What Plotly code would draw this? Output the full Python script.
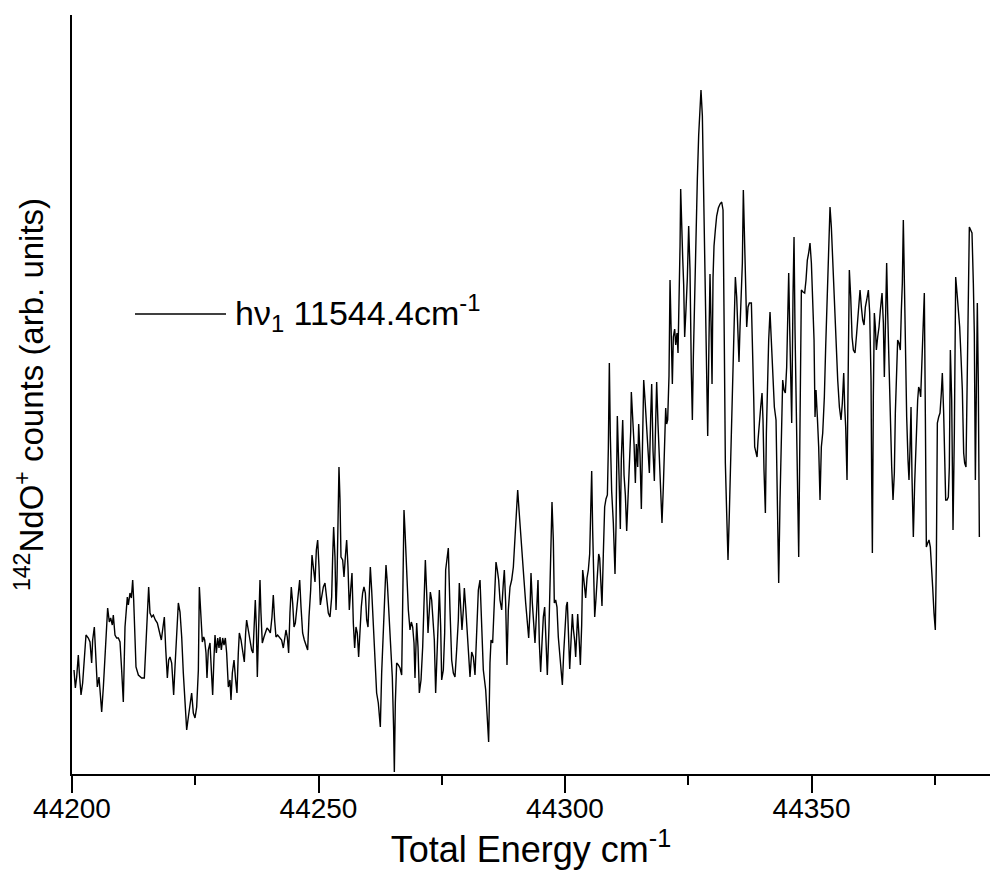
import plotly.graph_objects as go

# (total energy in cm^-1, 142NdO+ counts in arb. units)
seg_a = [(44200.41,102),(44200.68,84),(44200.95,95),(44201.28,117),(44201.49,99),(44201.83,77),(44202.16,89),(44202.43,105),(44202.84,137),(44203.31,134),(44203.65,130),(44203.99,109),(44204.19,132),(44204.53,145),(44204.80,122),(44205.14,85),(44205.48,95),(44205.75,79),(44206.02,60),(44206.36,85),(44206.69,115),(44207.03,152),(44207.23,164),(44207.57,150),(44207.84,154),(44208.18,147),(44208.38,157),(44208.72,137),(44209.06,134),(44209.40,134),(44209.74,130),(44210.07,102),(44210.41,70),(44210.75,145),(44210.95,159),(44211.22,175),(44211.43,167),(44211.76,179),(44212.04,174),(44212.31,192),(44212.51,172),(44212.78,139),(44212.98,105),(44213.46,97),(44214.13,94),(44214.67,94),(44215.01,129),(44215.28,165),(44215.55,185),(44215.82,159),(44216.16,155),(44216.50,157),(44216.90,152),(44217.31,149),(44217.71,139),(44218.12,132),(44218.46,145),(44218.73,155),(44219.00,124),(44219.34,94),(44219.61,112),(44219.88,115),(44220.22,109),(44220.62,77),(44220.89,105),(44221.23,142),(44221.57,169),(44221.91,160),(44222.25,135),(44222.58,99),(44222.92,69),(44223.26,42),(44223.60,55),(44223.94,65),(44224.27,79),(44224.61,59),(44224.95,54),(44225.29,65),(44225.63,102),(44225.83,185),(44226.10,165),(44226.44,130),(44226.71,135),(44226.91,132),(44227.18,119),(44227.38,94),(44227.65,122),(44227.99,129),(44228.26,102),(44228.53,77),(44228.80,115),(44229.01,137),(44229.28,119),(44229.55,134),(44229.82,124),(44230.02,135),(44230.29,122),(44230.56,134),(44230.83,127),(44231.10,134),(44231.37,119),(44231.71,85)]

seg_b = [(44232.04,92),(44232.25,72),(44232.52,99),(44232.86,112),(44233.19,92),(44233.46,79),(44233.73,119),(44233.94,139),(44234.28,132),(44234.61,119),(44234.95,110),(44235.22,139),(44235.42,152),(44235.76,142),(44236.10,132),(44236.44,122),(44236.71,119),(44236.98,152),(44237.18,172),(44237.39,145),(44237.59,95),(44237.86,145),(44238.13,192),(44238.33,159),(44238.60,129),(44238.94,135),(44239.21,140),(44239.55,144),(44239.89,142),(44240.23,139),(44240.56,155),(44240.83,177),(44241.10,152),(44241.37,135),(44241.71,137),(44242.12,135),(44242.52,132),(44242.86,124),(44243.13,132),(44243.40,142),(44243.67,135),(44243.94,119),(44244.21,159),(44244.48,185),(44244.76,169),(44245.03,145),(44245.30,149),(44245.63,165),(44245.91,182),(44246.18,192),(44246.45,165),(44246.78,139),(44247.12,132),(44247.53,125),(44247.80,122),(44248.07,155),(44248.41,182),(44248.68,217),(44249.02,202),(44249.29,190),(44249.56,222),(44249.83,232),(44250.10,205),(44250.37,167),(44250.64,175),(44250.98,185),(44251.31,189),(44251.65,172),(44251.99,159),(44252.33,155),(44252.67,175),(44252.87,215),(44253.07,245),(44253.34,215),(44253.55,162),(44253.75,192),(44253.95,255),(44254.15,305),(44254.36,272),(44254.56,215),(44254.90,212),(44255.17,195),(44255.44,215),(44255.71,232),(44255.98,205),(44256.25,162),(44256.52,182),(44256.79,199),(44257.06,149),(44257.33,124),(44257.60,145),(44257.87,139),(44258.14,115),(44258.41,145),(44258.68,165),(44258.95,179),(44259.22,185),(44259.50,179),(44259.77,152),(44260.04,145),(44260.31,179),(44260.51,205),(44260.78,182),(44261.12,145),(44261.46,105),(44261.79,79),(44262.13,69),(44262.54,45),(44262.81,99),(44263.08,139),(44263.35,175),(44263.69,207),(44263.96,189),(44264.30,159),(44264.63,125),(44264.97,95),(44265.24,42),(44265.38,0)]

seg_c = [(44265.58,69),(44265.85,109),(44266.19,107),(44266.53,104),(44266.87,97),(44267.07,152),(44267.20,202),(44267.34,262),(44267.54,242),(44267.88,202),(44268.22,162),(44268.56,142),(44268.83,150),(44269.10,145),(44269.37,129),(44269.57,94),(44269.91,149),(44270.18,125),(44270.45,79),(44270.79,92),(44271.13,125),(44271.40,169),(44271.67,212),(44271.94,179),(44272.21,139),(44272.48,162),(44272.68,180),(44272.95,172),(44273.22,152),(44273.49,132),(44273.76,79),(44273.97,115),(44274.30,169),(44274.51,182),(44274.78,145),(44274.98,92),(44275.32,102),(44275.59,139),(44275.79,202),(44276.13,215),(44276.33,224),(44276.67,162),(44277.01,112),(44277.35,99),(44277.68,95),(44278.02,122),(44278.36,152),(44278.56,189),(44278.83,169),(44279.10,142),(44279.37,162),(44279.58,184),(44279.85,165),(44280.12,142),(44280.39,115),(44280.73,95),(44281.07,120),(44281.40,115),(44281.74,97),(44282.08,142),(44282.42,182),(44282.76,192),(44283.09,142),(44283.43,102),(44283.91,82),(44284.24,59),(44284.51,30),(44284.78,109),(44284.99,132),(44285.32,129),(44285.66,165),(44286.00,210),(44286.27,202),(44286.54,192),(44286.81,172),(44287.15,162),(44287.49,189),(44287.69,202),(44287.96,169),(44288.23,107),(44288.50,162),(44288.84,185),(44289.18,192),(44289.52,205),(44289.86,235),(44290.13,262),(44290.40,282),(44290.67,262),(44291.00,242),(44291.34,219),(44291.68,192),(44292.02,169),(44292.36,152),(44292.63,134),(44292.90,162),(44293.10,199),(44293.37,169),(44293.64,152),(44293.91,129),(44294.25,162),(44294.52,192),(44294.79,129),(44295.06,100),(44295.33,129),(44295.60,155),(44295.87,165),(44296.14,122),(44296.41,97),(44296.75,145),(44296.95,182),(44297.16,225),(44297.36,270),(44297.63,232),(44297.83,169),(44298.10,172),(44298.37,165),(44298.64,135),(44298.98,115)]

seg_d = [(44299.19,103),(44299.46,87),(44299.73,119),(44300.00,147),(44300.27,166),(44300.47,170),(44300.67,147),(44300.95,103),(44301.22,131),(44301.49,158),(44301.69,143),(44301.96,131),(44302.16,115),(44302.37,139),(44302.57,158),(44302.84,135),(44303.11,107),(44303.38,147),(44303.58,202),(44303.78,194),(44303.99,178),(44304.19,174),(44304.46,194),(44304.73,202),(44305.00,218),(44305.20,265),(44305.41,301),(44305.61,241),(44305.81,190),(44306.02,155),(44306.29,174),(44306.56,198),(44306.83,218),(44307.03,214),(44307.23,194),(44307.50,166),(44307.77,218),(44308.04,265),(44308.31,273),(44308.59,277),(44308.79,324),(44308.99,409),(44309.19,336),(44309.46,281),(44309.80,249),(44310.14,198),(44310.34,245),(44310.61,356),(44310.95,297),(44311.22,243),(44311.42,313),(44311.70,352),(44311.97,297),(44312.24,277),(44312.51,241),(44312.78,277),(44313.05,309),(44313.32,340),(44313.45,380),(44313.72,360),(44314.00,328),(44314.27,289),(44314.47,328),(44314.74,305),(44314.94,348),(44315.21,317),(44315.48,263),(44315.75,336),(44315.96,392),(44316.23,372),(44316.50,348),(44316.77,321),(44317.11,299),(44317.38,356),(44317.58,388),(44317.85,321),(44318.12,291),(44318.32,336),(44318.59,390),(44318.86,348),(44319.13,317),(44319.40,289),(44319.67,249),(44319.94,285),(44320.21,336),(44320.42,364),(44320.62,348),(44320.82,352),(44321.09,396),(44321.30,492),(44321.50,447),(44321.77,388),(44321.97,435),(44322.24,443),(44322.45,427),(44322.72,439),(44322.92,419),(44323.12,459),(44323.33,526),(44323.46,583),(44323.66,534),(44323.87,514),(44324.07,487),(44324.27,435),(44324.54,463),(44324.81,494),(44325.08,546),(44325.35,502),(44325.62,400),(44325.83,352),(44326.03,415),(44326.30,487),(44326.57,538),(44326.84,593),(44327.11,637),(44327.38,660),(44327.58,682),(44327.86,656),(44328.13,573),(44328.46,471),(44328.73,376),(44328.94,336),(44329.21,435),(44329.41,498),(44329.61,451),(44329.82,388),(44330.02,494),(44330.22,526),(44330.49,542),(44330.76,556),(44331.10,564),(44331.44,568),(44331.78,570),(44332.05,562),(44332.32,423)]

seg_e = [(44332.52,309),(44332.79,259),(44333.06,212),(44333.33,259),(44333.60,309),(44333.87,359),(44334.14,399),(44334.35,459),(44334.55,495),(44334.82,475),(44335.02,439),(44335.29,410),(44335.50,445),(44335.77,475),(44335.97,509),(44336.17,582),(44336.38,542),(44336.58,492),(44336.85,445),(44337.12,465),(44337.39,469),(44337.80,469),(44338.07,422),(44338.27,375),(44338.47,325),(44338.74,319),(44338.95,315),(44339.15,332),(44339.42,352),(44339.69,365),(44339.96,379),(44340.16,352),(44340.36,302),(44340.64,259),(44340.84,339),(44341.04,392),(44341.31,432),(44341.58,460),(44341.85,432),(44342.12,392),(44342.46,365),(44342.80,352),(44343.07,239),(44343.34,189),(44343.61,272),(44343.88,325),(44344.15,392),(44344.42,382),(44344.69,379),(44344.96,405),(44345.17,459),(44345.37,499),(44345.57,445),(44345.77,392),(44345.98,349),(44346.25,479),(44346.45,535),(44346.65,442),(44346.86,365),(44347.13,269),(44347.40,215),(44347.67,352),(44347.94,482),(44348.28,480),(44348.61,479),(44348.88,492),(44349.15,512),(44349.42,519),(44349.69,529),(44349.97,509),(44350.24,475),(44350.51,432),(44350.71,355),(44350.91,382),(44351.18,355),(44351.45,325),(44351.72,272),(44351.99,325),(44352.27,339),(44352.60,375),(44352.87,425),(44353.14,465),(44353.48,525),(44353.75,565),(44354.02,545),(44354.29,512),(44354.63,465),(44354.97,425),(44355.31,392),(44355.65,365),(44355.98,352),(44356.25,369),(44356.53,399),(44356.73,365),(44356.93,345),(44357.20,292),(44357.47,425),(44357.67,502),(44357.95,475),(44358.22,435),(44358.49,422),(44358.82,419),(44359.16,439),(44359.50,462),(44359.84,482),(44360.11,465),(44360.38,452),(44360.65,447),(44360.92,465),(44361.19,472),(44361.53,482),(44361.80,459),(44362.07,392),(44362.20,292),(44362.34,219),(44362.54,375),(44362.74,459),(44362.95,445),(44363.15,422),(44363.42,435),(44363.69,445),(44363.96,462),(44364.30,479),(44364.57,449),(44364.77,395),(44365.04,459),(44365.24,509),(44365.45,459)]

seg_f = [(44365.72,399),(44365.99,359),(44366.26,305),(44366.53,272),(44366.80,299),(44367.00,359),(44367.27,399),(44367.47,432),(44367.74,429),(44368.01,422),(44368.22,462),(44368.42,489),(44368.62,552),(44368.83,489),(44369.03,415),(44369.30,355),(44369.57,312),(44369.77,292),(44369.97,322),(44370.18,365),(44370.38,295),(44370.65,235),(44370.92,289),(44371.12,325),(44371.33,355),(44371.53,372),(44371.73,385),(44371.94,382),(44372.14,375),(44372.41,412),(44372.68,439),(44372.88,479),(44373.09,355),(44373.29,225),(44373.56,229),(44373.83,232),(44374.10,225),(44374.37,205),(44374.57,185),(44374.84,159),(44375.11,142),(44375.32,212),(44375.52,349),(44375.79,355),(44376.06,359),(44376.33,379),(44376.53,399),(44376.80,359),(44377.01,322),(44377.21,272),(44377.48,272),(44377.75,275),(44377.95,305),(44378.16,422),(44378.43,372),(44378.70,242),(44378.97,339),(44379.24,495),(44379.51,479),(44379.78,465),(44380.05,445),(44380.32,415),(44380.59,382),(44380.86,319),(44381.06,309),(44381.33,305),(44381.54,385),(44381.74,465),(44382.01,545),(44382.28,542),(44382.55,539),(44382.82,489),(44383.02,439),(44383.23,292),(44383.43,359),(44383.63,469),(44383.83,389),(44384.04,235)]

x_ticks = [44200, 44250, 44300, 44350]
x_tick_labels = ["44200", "44250", "44300", "44350"]
legend_label = "hν<sub>1</sub> 11544.4cm<sup>-1</sup>"

points = seg_a + seg_b + seg_c + seg_d + seg_e + seg_f
energy = [p[0] for p in points]
counts = [p[1] for p in points]

FONT = "Arial, 'Liberation Sans', sans-serif"

fig = go.Figure()
fig.add_trace(go.Scatter(
    x=energy, y=counts, mode="lines",
    line=dict(color="black", width=1.4),
    name=legend_label, showlegend=False, hoverinfo="skip",
))

# legend sample (line + label), placed as in the original
fig.add_shape(type="line", xref="paper", yref="paper",
              x0=0.0686, x1=0.1678, y0=0.606, y1=0.606,
              line=dict(color="black", width=1.4))
fig.add_annotation(xref="paper", yref="paper", x=0.1754, y=0.608,
                   xanchor="left", yanchor="middle", showarrow=False,
                   text=legend_label,
                   font=dict(family=FONT, size=34, color="black"))

fig.update_layout(
    width=998, height=879,
    margin=dict(l=72, r=8, t=15, b=105),
    paper_bgcolor="white", plot_bgcolor="white",
    font=dict(family=FONT, color="black"),
    showlegend=False,
)
fig.update_xaxes(
    range=[44200, 44386.2],
    tickmode="array", tickvals=x_ticks, ticktext=x_tick_labels,
    ticks="outside", ticklen=17, tickwidth=2, tickcolor="black",
    ticklabelstandoff=-9,
    minor=dict(dtick=25, tick0=44200, ticks="outside", ticklen=9, tickwidth=2, tickcolor="black"),
    showline=True, linewidth=2, linecolor="black",
    showgrid=False, zeroline=False,
    tickfont=dict(family=FONT, size=28, color="black"),
    title=dict(text="Total Energy cm<sup>-1</sup>", standoff=14,
               font=dict(family=FONT, size=36, color="black")),
)
fig.update_yaxes(
    range=[-2, 757],
    showline=True, linewidth=2, linecolor="black",
    ticks="", showticklabels=False, showgrid=False, zeroline=False,
    title=dict(text="<sup>142</sup>NdO<sup>+</sup> counts (arb. units)", standoff=16,
               font=dict(family=FONT, size=33, color="black")),
)

fig.write_html("out.html")
